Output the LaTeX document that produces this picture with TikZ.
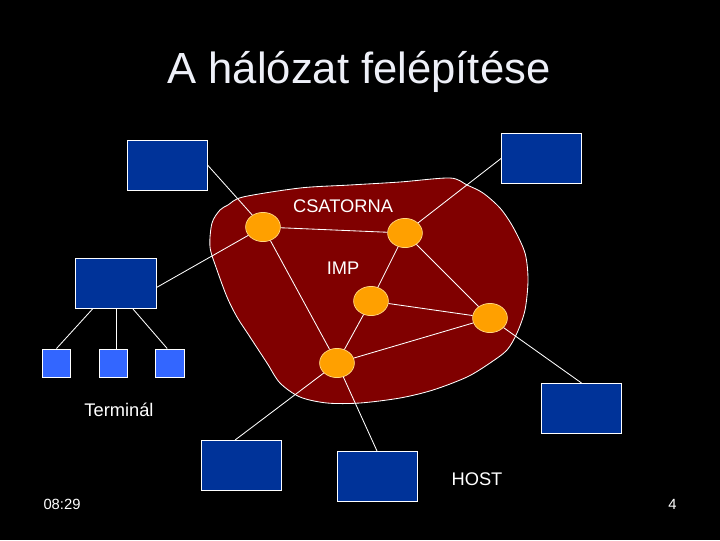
\documentclass[tikz,border=0pt]{standalone}
\usepackage{fontspec}
\setmainfont{Liberation Sans}
\usetikzlibrary{shapes.geometric,calc}
\definecolor{hostblue}{RGB}{0,51,153}
\definecolor{termblue}{RGB}{51,102,255}
\definecolor{cloudred}{RGB}{128,0,0}
\definecolor{impfill}{RGB}{255,160,0}
\definecolor{impedge}{RGB}{255,215,130}
\definecolor{titlewhite}{RGB}{238,240,248}
\begin{document}
\begin{tikzpicture}[x=0.025cm,y=-0.025cm,
  host/.style={draw=white,line width=0.7pt,fill=hostblue,minimum width=2cm,minimum height=1.25cm,inner sep=0pt},
  term/.style={draw=white,line width=0.7pt,fill=termblue,minimum width=0.72cm,minimum height=0.7cm,inner sep=0pt},
  imp/.style={ellipse,draw=impedge,line width=0.5pt,fill=impfill,minimum width=0.87cm,minimum height=0.73cm,inner sep=0pt},
  link/.style={white,line width=0.6pt},
  lbl/.style={text=white,anchor=base,inner sep=0pt,font=\fontsize{13}{15}\selectfont}]
% black slide
\fill[black] (0,0) rectangle (720,540);
\useasboundingbox (0,0) rectangle (720,540);
\node[text=titlewhite,anchor=base,inner sep=0pt,font=\fontsize{31}{37}\selectfont] (title) at (359,83) {A hálózat felépítése};
% the subnet cloud
\draw[white,line width=0.6pt,fill=cloudred] plot[smooth cycle,tension=0.5] coordinates {
  (228,205) (243,197) (300,188) (350,185) (400,182) (450,178) (467,185)
  (483,193) (500,208) (513,227) (525,253) (528,280) (525,310) (517,333)
  (507,350) (490,363) (467,377) (433,390) (400,398) (360,403) (327,403)
  (300,397) (280,383) (267,363) (250,337) (237,317) (227,297) (217,270)
  (210,247) (212,223) (220,210)};
% IMP nodes
\node[imp] (i1) at (263,227) {};
\node[imp] (i2) at (405,233) {};
\node[imp] (i3) at (371,301) {};
\node[imp] (i4) at (490,318) {};
\node[imp] (i5) at (337,363) {};
\foreach \a/\b in {i1/i2,i1/i5,i2/i3,i2/i4,i3/i4,i3/i5,i5/i4}
  \draw[link] (\a) -- (\b);
% hosts
\node[host] (h1) at (167,165) {};
\node[host] (h2) at (541.5,158.5) {};
\node[host] (h3) at (116,283.5) {};
\node[host] (h4) at (241.5,465.5) {};
\node[host] (h5) at (377,476.5) {};
\node[host] (h6) at (581.5,408.5) {};
\draw[link] (h1.east) -- (i1);
\draw[link] (h2.west) -- (i2);
\draw[link] ([yshift=-0.1cm]h3.east) -- (i1);
\draw[link] (h6.north) -- (i4);
\draw[link] (h5.north) -- (i5);
\draw[link] ([xshift=-0.16cm]h4.north) -- (i5);
% terminals under the left host
\node[term] (t1) at (56.5,363) {};
\node[term] (t2) at (113.5,363) {};
\node[term] (t3) at (170,363) {};
\draw[link] ($(h3.south west)!0.21!(h3.south east)$) -- (t1.north);
\draw[link] (h3.south) -- (h3.south |- t2.north);
\draw[link] ($(h3.south west)!0.71!(h3.south east)$) -- ([xshift=-0.07cm]t3.north);
% labels
\node[lbl] (csatorna) at (343,212) {CSATORNA};
\node[lbl] (implbl) at (343,274) {IMP};
\node[lbl] (terminal) at (119,416) {Terminál};
\node[lbl] (hostlbl) at (477,485) {HOST};
\node[text=white,anchor=base,inner sep=0pt,font=\fontsize{10.5}{12}\selectfont] (time) at (62,509) {08:29};
\node[text=white,anchor=base,inner sep=0pt,font=\fontsize{10.5}{12}\selectfont] (page) at (672.5,509) {4};
\end{tikzpicture}
\end{document}
